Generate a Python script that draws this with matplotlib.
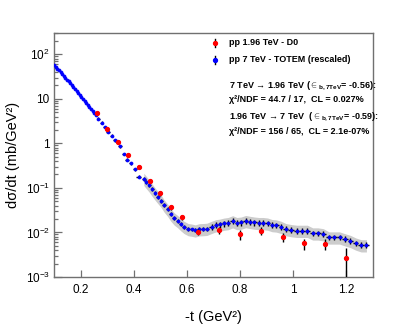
import numpy as np
import matplotlib
matplotlib.use("Agg")
import matplotlib.pyplot as plt
from matplotlib.lines import Line2D
from matplotlib.ticker import FixedLocator, FixedFormatter, LogLocator, NullLocator

plt.rcParams['font.family'] = ['Liberation Sans', 'DejaVu Sans']
plt.rcParams['mathtext.fontset'] = 'custom'
plt.rcParams['mathtext.rm'] = 'Liberation Sans'
plt.rcParams['mathtext.bf'] = 'Liberation Sans:bold'

# pp 1.96 TeV - D0
d0_t = [0.26, 0.30, 0.34, 0.38, 0.42, 0.46, 0.50, 0.54, 0.58, 0.64,
        0.72, 0.80, 0.88, 0.96, 1.04, 1.12, 1.20]
d0_val = [4.75, 2.1, 1.08, 0.56, 0.30, 0.142, 0.075, 0.037, 0.0218, 0.0102,
          0.0113, 0.0091, 0.0109, 0.0079, 0.0057, 0.0056, 0.0027]
d0_err = [0.3, 0.15, 0.08, 0.045, 0.03, 0.015, 0.009, 0.005, 0.003, 0.0016,
          0.002, 0.0022, 0.0022, 0.0019, 0.0016, 0.0016, 0.0018]

# pp 7 TeV - TOTEM (rescaled)
totem_t = [0.101, 0.107, 0.113, 0.119, 0.125, 0.131, 0.137, 0.143, 0.149, 0.155,
           0.161, 0.167, 0.173, 0.179, 0.185, 0.191, 0.197, 0.203, 0.209, 0.215,
           0.221, 0.227, 0.233, 0.239, 0.245, 0.251, 0.257, 0.266, 0.279, 0.291,
           0.304, 0.317, 0.331, 0.347, 0.362, 0.375, 0.388, 0.403, 0.418, 0.438,
           0.447, 0.458, 0.469, 0.480, 0.491, 0.503, 0.514, 0.527, 0.539, 0.552,
           0.565, 0.577, 0.589, 0.605, 0.618, 0.631, 0.646, 0.660, 0.675, 0.693,
           0.708, 0.724, 0.739, 0.755, 0.772, 0.788, 0.804, 0.821, 0.838, 0.854,
           0.870, 0.886, 0.903, 0.920, 0.936, 0.954, 0.972, 0.992, 1.013, 1.033,
           1.053, 1.073, 1.093, 1.113, 1.134, 1.154, 1.174, 1.194, 1.215, 1.235,
           1.255, 1.275]
totem_val = [58.0, 52.5, 47.9, 43.6, 39.8, 35.9, 32.7, 29.9, 26.9, 24.5,
             22.4, 20.2, 18.4, 16.6, 15.1, 13.6, 12.3, 11.2, 10.1, 9.1,
             8.2, 7.4, 6.7, 6.0, 5.4, 4.9, 4.4, 3.6, 2.9, 2.35,
             1.82, 1.48, 1.17, 0.85, 0.575, 0.43, 0.355, 0.263, 0.178, 0.162,
             0.138, 0.115, 0.093, 0.076, 0.063, 0.052, 0.041, 0.033, 0.0257, 0.0209,
             0.0182, 0.0155, 0.0135, 0.0120, 0.0117, 0.0112, 0.0119, 0.0120, 0.0122, 0.0135,
             0.0146, 0.0151, 0.0159, 0.0164, 0.0180, 0.0164, 0.0168, 0.0182, 0.0174, 0.0168,
             0.0164, 0.0164, 0.0160, 0.0148, 0.0145, 0.0135, 0.0120, 0.0114, 0.0110, 0.0110,
             0.0110, 0.0096, 0.0096, 0.0092, 0.0078, 0.0078, 0.0078, 0.0071, 0.0065, 0.0057,
             0.0052, 0.0052]
# relative stat. errors and systematic band (rough read-off)
totem_relerr = [0.03] * 27 + [0.07] * 12 + [0.10] * 20 + [0.15] * 33
band_tmin = 0.43
band_lo, band_hi = 0.70, 1.32

t = np.array(totem_t)
v = np.array(totem_val)
verr = v * np.array(totem_relerr)
terr = np.gradient(t) / 2

fig = plt.figure(figsize=(4.15, 3.27), dpi=100)
ax = fig.add_axes([0.130, 0.153, 0.769, 0.746])

sel = t >= band_tmin
ax.fill_between(t[sel], v[sel] * band_lo, v[sel] * band_hi,
                color="#cccccc", lw=0, zorder=1)

ax.errorbar(t, v, xerr=terr, yerr=verr, fmt="o", color="#0000ff", ms=2.2,
            mec="#0000ff", mew=0.5, ecolor="black", elinewidth=1.0,
            capsize=0, zorder=3)
ax.errorbar(d0_t, d0_val, yerr=d0_err, fmt="o", color="#ff0000", ms=2.8,
            mec="#ff0000", ecolor="black", elinewidth=1.0, capsize=0, zorder=4)

ax.set_yscale("log")
ax.set_xlim(0.1, 1.3)
ax.set_ylim(1e-3, 300)

ax.xaxis.set_major_locator(FixedLocator([0.2, 0.4, 0.6, 0.8, 1.0, 1.2]))
ax.xaxis.set_major_formatter(FixedFormatter(["0.2", "0.4", "0.6", "0.8", "1", "1.2"]))
ax.xaxis.set_minor_locator(NullLocator())
ax.yaxis.set_major_locator(FixedLocator([1e-3, 1e-2, 1e-1, 1, 10, 100]))
ax.yaxis.set_major_formatter(FixedFormatter(
    [r"10$^{-3}$", r"10$^{-2}$", r"10$^{-1}$", "1", "10", r"10$^{2}$"]))
ax.yaxis.set_minor_locator(LogLocator(base=10, subs=np.arange(2, 10)))
ax.yaxis.set_minor_formatter(FixedFormatter([]))

frame = "#707070"
for s in ax.spines.values():
    s.set_color(frame)
    s.set_linewidth(1.0)
ax.tick_params(which="both", direction="in", top=False, right=False,
               color=frame, labelsize=8.5, width=0.9)
ax.tick_params(axis="x", which="major", length=5, pad=5)
ax.tick_params(axis="y", which="major", length=6, pad=3)
ax.tick_params(axis="y", which="minor", length=3)

ax.set_xlabel("-t (GeV²)", fontsize=10.5, labelpad=10)
ax.set_ylabel("dσ/dt (mb/GeV²)", fontsize=10.5, labelpad=4)


def fx(px):
    return px / 415


def fy(py):
    return 1 - py / 327


# legend glyphs
for py, col in [(43, "#ff0000"), (59.5, "#0000ff")]:
    fig.add_artist(Line2D([fx(215), fx(215)], [fy(py - 4), fy(py + 4)],
                          color="black", lw=1.0, transform=fig.transFigure))
    fig.add_artist(Line2D([fx(215)], [fy(py)], marker="o", ms=2.8, color=col,
                          transform=fig.transFigure))

txt = dict(fontsize=6.5, fontweight="bold", va="center", ha="left")
fig.text(fx(229), fy(42.5), "pp 1.96 TeV - D0", **txt)
fig.text(fx(229), fy(59), "pp 7 TeV - TOTEM (rescaled)", **txt)
fig.text(fx(229), fy(85.5),
         r"7 TeV → 1.96 TeV (${\in}_{\mathbf{b,7TeV}}$= -0.56):", **txt)
fig.text(fx(229), fy(99.5), "χ²/NDF = 44.7 / 17,  CL = 0.027%", **txt)
fig.text(fx(229), fy(117),
         r"1.96 TeV → 7 TeV  (${\in}_{\mathbf{b,7TeV}}$= -0.59):", **txt)
fig.text(fx(229), fy(131), "χ²/NDF = 156 / 65,  CL = 2.1e-07%", **txt)

fig.savefig("out.png", dpi=100)
